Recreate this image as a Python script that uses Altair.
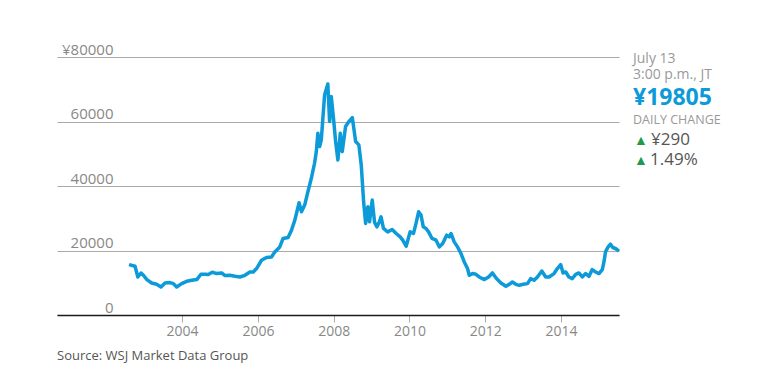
import altair as alt
import pandas as pd

dates = [
    "2002-08-08", "2002-10-05", "2002-11-01", "2002-12-02", "2002-12-25",
    "2003-01-27", "2003-03-14", "2003-05-01", "2003-06-12", "2003-07-21",
    "2003-09-07", "2003-10-09", "2003-11-10", "2003-12-28", "2004-02-15",
    "2004-04-04", "2004-05-22", "2004-07-01", "2004-08-09", "2004-09-10",
    "2004-10-19", "2004-11-30", "2005-01-17", "2005-02-18", "2005-04-07",
    "2005-05-25", "2005-07-12", "2005-08-29", "2005-10-16", "2005-11-17",
    "2005-12-19", "2006-02-05", "2006-03-25", "2006-05-12", "2006-06-13",
    "2006-07-31", "2006-09-01", "2006-10-19", "2006-11-21", "2006-12-23",
    "2007-02-02", "2007-02-25", "2007-03-28", "2007-04-28", "2007-05-31",
    "2007-07-01", "2007-07-18", "2007-08-02", "2007-08-19", "2007-09-04",
    "2007-10-06", "2007-11-06", "2007-11-23", "2007-12-09", "2008-01-01",
    "2008-01-20", "2008-02-11", "2008-03-05", "2008-03-24", "2008-04-25",
    "2008-05-27", "2008-06-29", "2008-07-31", "2008-08-31", "2008-09-23",
    "2008-10-16", "2008-11-04", "2008-11-26", "2008-12-12", "2009-01-07",
    "2009-01-29", "2009-02-20", "2009-03-17", "2009-04-02", "2009-04-25",
    "2009-06-05", "2009-07-18", "2009-08-26", "2009-10-03", "2009-10-28",
    "2009-11-30", "2010-01-07", "2010-02-08", "2010-03-05", "2010-03-30",
    "2010-04-22", "2010-05-14", "2010-06-09", "2010-07-04", "2010-08-06",
    "2010-09-14", "2010-10-16", "2010-11-17", "2010-12-25", "2011-01-20",
    "2011-02-05", "2011-03-08", "2011-04-09", "2011-05-12", "2011-06-13",
    "2011-07-14", "2011-07-31", "2011-09-01", "2011-10-03", "2011-11-04",
    "2011-12-23", "2012-02-02", "2012-03-10", "2012-04-18", "2012-05-31",
    "2012-07-18", "2012-08-19", "2012-09-19", "2012-10-22", "2012-11-23",
    "2013-01-01", "2013-02-11", "2013-03-14", "2013-04-16", "2013-05-18",
    "2013-06-29", "2013-08-06", "2013-09-07", "2013-10-25", "2013-11-26",
    "2013-12-28", "2014-01-20", "2014-02-15", "2014-03-17", "2014-04-18",
    "2014-05-22", "2014-06-21", "2014-07-24", "2014-08-26", "2014-09-27",
    "2014-10-28", "2014-11-30", "2015-01-01", "2015-02-02", "2015-02-18",
    "2015-03-05", "2015-03-30", "2015-04-22", "2015-05-14", "2015-06-09",
    "2015-07-13",
]
prices = [
    15640, 15115, 11790, 13030, 12315,
    10980, 9920, 9515, 8680, 9920,
    10045, 9735, 8680, 9735, 10450,
    10760, 10980, 12625, 12625, 12535,
    13250, 12845, 13030, 12220, 12315,
    12005, 11790, 12315, 13340, 13340,
    14400, 16980, 17820, 18005, 19560,
    21115, 23730, 24040, 26310, 29420,
    34800, 32000, 34085, 38220, 42390,
    47055, 50660, 56385, 52215, 54300,
    68295, 71625, 59990, 67770, 60520,
    53770, 48080, 56385, 50660, 58435,
    59990, 61235, 53770, 52745, 46525,
    35110, 28395, 33555, 28890, 35640,
    28800, 27340, 28890, 30450, 26840,
    25780, 26530, 25285, 24225, 23200,
    21335, 25780, 25285, 28395, 32000,
    30975, 27340, 26840, 25780, 23730,
    23200, 21115, 22175, 24755, 24225,
    25285, 22670, 21115, 19065, 16450,
    14400, 12315, 12845, 12625, 11790,
    10980, 11790, 13030, 11290, 9920,
    8895, 9515, 10230, 9515, 9205,
    9515, 9735, 11290, 10760, 11790,
    13650, 11790, 11790, 12845, 14400,
    15645, 13030, 13340, 11790, 11290,
    12625, 13030, 11790, 12845, 12005,
    14090, 13340, 12845, 14090, 16450,
    19560, 21115, 21955, 20930, 20620,
    19805,
]
y_ticks = [0, 20000, 40000, 60000, 80000]
x_tick_years = [2004, 2006, 2008, 2010, 2012, 2014]
side_header = ["July 13", "3:00 p.m., JT"]
last_price = "¥19805"
change_label = "DAILY CHANGE"
change_values = ["¥290", "1.49%"]
source_text = "Source: WSJ Market Data Group"

df = pd.DataFrame({"date": dates, "price": prices})

FONT = "Open Sans"
BLUE = "#0d9ad9"
W, H = 562, 258

x_domain = [
    alt.DateTime(year=2000, month=9, date=13, utc=True),
    alt.DateTime(year=2015, month=7, date=13, utc=True),
]

line = alt.Chart(df).mark_line(color=BLUE, strokeWidth=3.5, strokeJoin="round").encode(
    x=alt.X(
        "date:T",
        scale=alt.Scale(type="utc", domain=x_domain),
        axis=alt.Axis(
            values=[alt.DateTime(year=y, month=1, date=1, utc=True) for y in x_tick_years],
            labelExpr="utcFormat(datum.value, '%Y')",
            title=None,
            grid=False,
            domainColor="#1a1a1a",
            domainWidth=1.5,
            tickColor="#aaaaaa",
            tickSize=7,
            labelColor="#888888",
            labelFontSize=14,
            labelFont=FONT,
            labelPadding=2,
            zindex=1,
        ),
    ),
    y=alt.Y(
        "price:Q",
        scale=alt.Scale(domain=[0, 80000], nice=False),
        axis=alt.Axis(
            values=y_ticks,
            labelExpr="datum.value == 80000 ? '¥80000' : format(datum.value, 'd')",
            title=None,
            domain=False,
            ticks=False,
            grid=True,
            gridColor="#aaaaaa",
            gridWidth=1,
            labelAlign="right",
            labelBaseline="alphabetic",
            labelPadding=-56,
            labelOffset=-3,
            labelColor="#888888",
            labelFontSize=15,
            labelFont=FONT,
        ),
    ),
)


def label(txt, x, y, size, color, weight="normal"):
    return alt.Chart(alt.Data(values=[{}])).mark_text(
        align="left", baseline="alphabetic", font=FONT, fontSize=size,
        color=color, fontWeight=weight,
    ).encode(x=alt.value(x), y=alt.value(y), text=alt.value(txt))


layers = [
    line,
    label(side_header[0], 576, 6, 14, "#999999"),
    label(side_header[1], 576, 21.5, 14, "#999999"),
    label(last_price, 576, 48, 23, BLUE, "bold"),
    label(change_label, 576, 66.5, 12.5, "#999999"),
    label("▲", 577, 87.5, 14, "#1f9a4a"),
    label(change_values[0], 594, 87.5, 17, "#555555"),
    label("▲", 577, 107.5, 14, "#1f9a4a"),
    label(change_values[1], 593, 107.5, 17, "#555555"),
    label(source_text, 0, 303, 13, "#555555"),
]

chart = alt.layer(*layers).properties(
    width=W, height=H,
    autosize=alt.AutoSizeParams(type="none"),
    padding={"left": 49, "top": 49, "right": 131, "bottom": 61},
).configure_view(stroke=None)

chart.save("out.html", embed_options={"renderer": "svg", "actions": False})
